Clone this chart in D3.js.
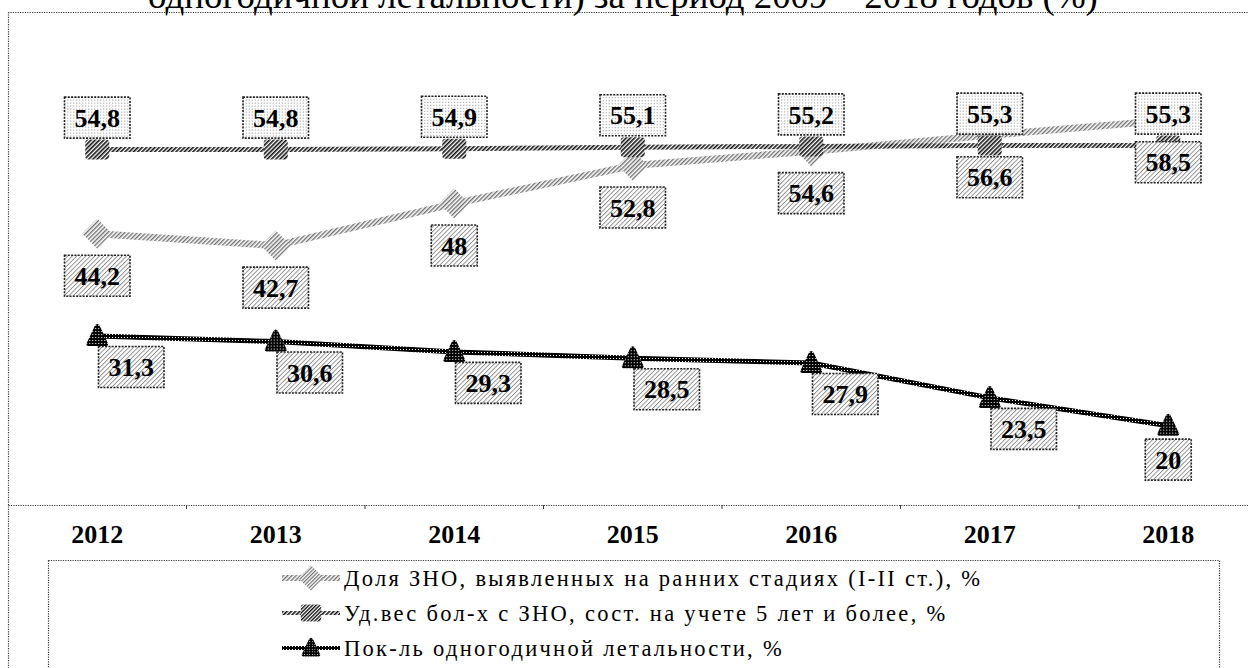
<!DOCTYPE html>
<html><head><meta charset="utf-8">
<script src="https://cdn.jsdelivr.net/npm/d3@7"></script>
<style>html,body{margin:0;padding:0;background:#fff;overflow:hidden}svg{display:block}</style>
</head><body>
<svg id="c" width="1248" height="668"></svg>
<script>
const years = ["2012","2013","2014","2015","2016","2017","2018"];
const earlyStage = [44.2, 42.7, 48, 52.8, 54.6, 56.6, 58.5];
const fiveYears = [54.8, 54.8, 54.9, 55.1, 55.2, 55.3, 55.3];
const lethality = [31.3, 30.6, 29.3, 28.5, 27.9, 23.5, 20];
const seriesNames = [
  "Доля ЗНО, выявленных на ранних стадиях (I-II ст.), %",
  "Уд.вес бол-х с ЗНО, сост. на учете 5 лет и более, %",
  "Пок-ль одногодичной летальности, %"
];
const titleText = "одногодичной летальности) за период 2009 – 2018 годов (%)";
const yDomain = [10, 70];

const svg = d3.select("#c");
const serif = "Liberation Serif";

// patterns
const defs = svg.append("defs");
function stripes(id, color, w, gap, angle) {
  const p = defs.append("pattern").attr("id", id).attr("patternUnits","userSpaceOnUse")
    .attr("width", gap).attr("height", gap).attr("patternTransform", `rotate(${angle})`);
  p.append("rect").attr("width", gap).attr("height", gap).attr("fill", "#fff");
  p.append("rect").attr("width", w).attr("height", gap).attr("fill", color);
}
stripes("pS1", "#707070", 1.4, 3, 45);
stripes("pS2", "#111", 1.6, 3, 45);
stripes("pBox1", "#8a8a8a", 0.9, 3.2, 45);
(function(){
  const p = defs.append("pattern").attr("id","pS3").attr("patternUnits","userSpaceOnUse").attr("width",3).attr("height",3);
  p.append("rect").attr("width",3).attr("height",3).attr("fill","#000");
  p.append("rect").attr("x",1).attr("y",1).attr("width",1).attr("height",1).attr("fill","#fff");
  const q = defs.append("pattern").attr("id","pBox2").attr("patternUnits","userSpaceOnUse").attr("width",3).attr("height",3);
  q.append("rect").attr("width",3).attr("height",3).attr("fill","#fff");
  q.append("rect").attr("width",1).attr("height",1).attr("fill","#8c8c8c");
})();

// scales
const x = d3.scaleBand().domain(years).range([8, 1257.5]);
const y = d3.scaleLinear().domain(yDomain).range([505, 29]);
const cx = d => x(d) + x.bandwidth() / 2;

// outer frame
const frame = svg.append("g").attr("fill","none").attr("stroke","#3a3a3a").attr("stroke-width",1.2).attr("stroke-dasharray","1.2,1.2");
frame.append("line").attr("x1",8).attr("x2",1248).attr("y1",12.5).attr("y2",12.5);
frame.append("line").attr("x1",8.5).attr("x2",8.5).attr("y1",12).attr("y2",668);

// title (cropped at the top, as in the reference)
const title = svg.append("text").attr("x", 623).attr("y", 8).attr("text-anchor","middle")
  .style("font-family", serif).attr("font-size", 30).attr("fill","#000").text(titleText);
const tw = title.node().getComputedTextLength();
title.attr("font-size", 30 * 950 / tw);

// x axis
const axis = d3.axisBottom(x).tickSize(0).tickPadding(20).tickFormat(d => d);
const gx = svg.append("g").attr("transform", `translate(0,${y(yDomain[0])})`).call(axis);
gx.attr("font-family", null);
gx.select(".domain").attr("stroke","#3a3a3a").attr("stroke-width",1.2).attr("stroke-dasharray","1.2,1.2");
gx.selectAll(".tick text").style("font-family", serif).attr("font-size", 26).attr("font-weight","bold").attr("fill","#000")
  .attr("dy", "0.71em");
gx.selectAll(".bound").data(years.slice(1)).enter().append("line").attr("class","bound")
  .attr("x1", d => x(d)).attr("x2", d => x(d)).attr("y1", 0).attr("y2", 4).attr("stroke","#3a3a3a");

// series definition
const series = [
  {vals: earlyStage, fill: "url(#pS1)", width: 7, marker: "diamond", box: "url(#pBox1)"},
  {vals: fiveYears, fill: "url(#pS2)", width: 5, marker: "square", box: "url(#pBox2)"},
  {vals: lethality, fill: "url(#pS3)", width: 5, marker: "triangle", box: "url(#pBox1)"}
];
function markerPath(kind) {
  if (kind === "diamond") return "M0,-15L15,0L0,15L-15,0Z";
  if (kind === "square") return "M-9,-10H9Q12,-10 12,-7V7Q12,10 9,10H-9Q-12,10 -12,7V-7Q-12,-10 -9,-10Z";
  return "M0,-12Q2,-12 3,-9L11,8Q11,10 9,10H-9Q-11,10 -11,8L-3,-9Q-2,-12 0,-12Z";
}
const line = d3.line().x((d, i) => cx(years[i])).y(d => y(d));

series.forEach(s => {
  svg.append("path").datum(s.vals).attr("d", line).attr("fill","none")
    .attr("stroke", s.fill).attr("stroke-width", s.width).attr("stroke-linejoin","round");
});
series.forEach(s => {
  svg.append("g").selectAll("path").data(s.vals).enter().append("path")
    .attr("transform", (d, i) => `translate(${cx(years[i])},${y(d)})`)
    .attr("d", markerPath(s.marker)).attr("fill", s.fill);
});

// data labels
function labelPos(si, i, n) {
  if (si === 0) return [0, 42];
  if (si === 1) return [0, -32];
  if (i === n - 1) return [0, 34];
  return [34, 31];
}
series.forEach((s, si) => {
  const g = svg.append("g");
  s.vals.forEach((v, i) => {
    const [dx, dy] = labelPos(si, i, s.vals.length);
    const px = cx(years[i]) + dx, py = y(v) + dy;
    const lg = g.append("g").attr("transform", `translate(${px},${py})`);
    const txt = String(v).replace(".", ",");
    const rect = lg.append("rect");
    const t = lg.append("text").attr("text-anchor","middle").attr("dy","0.35em")
      .style("font-family", serif).attr("font-size", 26).attr("font-weight","bold").attr("fill","#000").text(txt);
    const w = t.node().getComputedTextLength() + 20;
    rect.attr("x", -w/2).attr("y", -20.5).attr("width", w).attr("height", 41)
      .attr("fill", s.box).attr("stroke","#222").attr("stroke-width",1.6).attr("stroke-dasharray","2,1.3");
  });
});

// legend
svg.append("rect").attr("x", 48.5).attr("y", 560.5).attr("width", 1171).attr("height", 140)
  .attr("fill","#fff").attr("stroke","#3a3a3a").attr("stroke-width",1.2).attr("stroke-dasharray","1.2,1.2");
const legend = svg.append("g");
const legendTexts = [];
series.forEach((s, si) => {
  const ly = 578 + si * 35;
  const row = legend.append("g").attr("transform", `translate(0,${ly})`);
  row.append("line").attr("x1", 282).attr("x2", 340).attr("y1", 0).attr("y2", 0)
    .attr("stroke", s.fill).attr("stroke-width", s.width - 1);
  row.append("path").attr("transform", "translate(311,0) scale(0.85)").attr("d", markerPath(s.marker)).attr("fill", s.fill);
  legendTexts.push(row.append("text").attr("x", 344).attr("y", 0).attr("dy", "0.35em")
    .style("font-family", serif).attr("font-size", 22.5).attr("fill","#000").text(seriesNames[si]));
});
// spread the legend lettering to the reference's wider set
const w0 = legendTexts[0].node().getComputedTextLength();
const ls = (636 - w0) / (seriesNames[0].length - 1);
legendTexts.forEach(t => t.style("letter-spacing", ls + "px"));
</script>
</body></html>
